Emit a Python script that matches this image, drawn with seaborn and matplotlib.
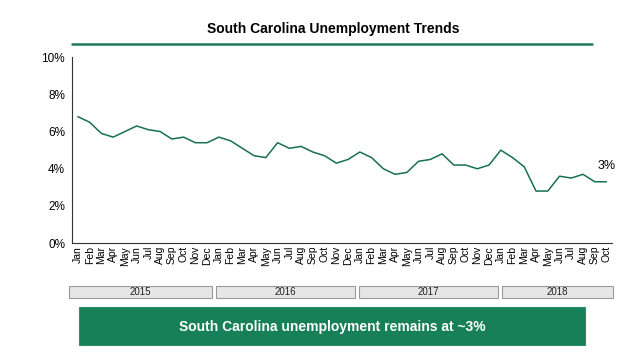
import matplotlib
matplotlib.use('Agg')
import matplotlib.pyplot as plt
import seaborn as sns
import pandas as pd
from matplotlib.patches import Rectangle
from matplotlib.lines import Line2D

months = ['Jan', 'Feb', 'Mar', 'Apr', 'May', 'Jun', 'Jul', 'Aug', 'Sep', 'Oct', 'Nov', 'Dec']
years = ['2015', '2016', '2017', '2018']
month_labels = months * 3 + months[:10]

rate_2015 = [6.8, 6.5, 5.9, 5.7, 6.0, 6.3, 6.1, 6.0, 5.6, 5.7, 5.4, 5.4]
rate_2016 = [5.7, 5.5, 5.1, 4.7, 4.6, 5.4, 5.1, 5.2, 4.9, 4.7, 4.3, 4.5]
rate_2017 = [4.9, 4.6, 4.0, 3.7, 3.8, 4.4, 4.5, 4.8, 4.2, 4.2, 4.0, 4.2]
rate_2018 = [5.0, 4.6, 4.1, 2.8, 2.8, 3.6, 3.5, 3.7, 3.3, 3.3]
rates = rate_2015 + rate_2016 + rate_2017 + rate_2018

df = pd.DataFrame({'idx': range(len(rates)), 'rate': rates})

sns.set_theme(style='white')
plt.rcParams['font.family'] = ['Liberation Sans', 'DejaVu Sans']
plt.rcParams['text.color'] = 'black'
plt.rcParams['xtick.color'] = 'black'
plt.rcParams['ytick.color'] = 'black'

green = '#17704f'
fig = plt.figure(figsize=(6.35, 3.64), dpi=100)
ax = fig.add_axes([0.1134, 0.332, 0.851, 0.511])
sns.lineplot(data=df, x='idx', y='rate', ax=ax, color=green, linewidth=1.1)

ax.set_xlim(-0.5, len(rates) - 0.5)
ax.set_ylim(0, 10)
ax.set_yticks(range(0, 11, 2))
ax.set_yticklabels([f'{v}%' for v in range(0, 11, 2)], fontsize=8.5)
ax.set_xticks(range(len(rates)))
ax.set_xticklabels(month_labels, rotation=90, fontsize=7.5)
ax.set_xlabel('')
ax.set_ylabel('')
for s in ['top', 'right']:
    ax.spines[s].set_visible(False)
for s in ['left', 'bottom']:
    ax.spines[s].set_color('#333333')
    ax.spines[s].set_linewidth(0.8)
ax.tick_params(axis='y', length=3, width=0.8, color='#333333', pad=2)
ax.tick_params(axis='x', length=0, pad=2)

ax.annotate('3%', (len(rates) - 1, rates[-1]), xytext=(0, 7), textcoords='offset points',
            ha='center', va='bottom', fontsize=9)

# title and rule
fig.text(0.525, 0.92, 'South Carolina Unemployment Trends', ha='center', va='center',
         fontsize=10, fontweight='bold')
fig.add_artist(Line2D([0.113, 0.932], [0.879, 0.879], color='#1a7a56', linewidth=1.8))

# year boxes
W, H = 635, 364
boxes = [(69, 212), (216, 355), (359, 498), (502, 613)]
for (x0, x1), yr in zip(boxes, years):
    fig.add_artist(Rectangle((x0 / W, 1 - 298 / H), (x1 - x0) / W, 12 / H,
                             facecolor='#e6e6e6', edgecolor='#9a9a9a', linewidth=0.8))
    fig.text((x0 + x1) / 2 / W, 1 - 292 / H, yr, ha='center', va='center', fontsize=7,
             color='#222222')

# takeaway box
fig.add_artist(Rectangle((79 / W, 1 - 345 / H), 506 / W, 38 / H,
                         facecolor='#178059', edgecolor='#2e8f6a', linewidth=0.8))
fig.text(332 / W, 1 - 327 / H, 'South Carolina unemployment remains at ~3%', ha='center',
         va='center', fontsize=10, fontweight='bold', color='white')

fig.savefig('out.png', dpi=100)
